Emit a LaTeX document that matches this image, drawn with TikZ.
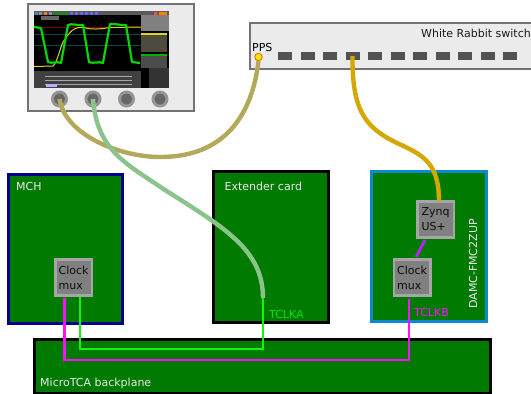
\documentclass[tikz,border=0pt]{standalone}
\usepackage{fontspec}
\setmainfont{DejaVu Sans}
\definecolor{pcb}{HTML}{007A00}
\definecolor{cableolive}{HTML}{B3A95A}
\definecolor{cablegreen}{HTML}{8AC48A}
\definecolor{cablegold}{HTML}{D4A800}
\definecolor{sig}{HTML}{11F511}
\definecolor{mag}{HTML}{FF10FF}
\definecolor{purp}{HTML}{BB22FF}
\tikzset{
  x=1pt,y=-1pt,
  every node/.style={font=\fontsize{11}{13}\selectfont},
  card/.style={draw=#1,line width=3pt,fill=pcb,inner sep=0pt,anchor=north west},
  lbl/.style={anchor=base west,inner sep=0pt,text=white!92!black},
  chipbox/.style={draw=black!35,line width=2.8pt,fill=black!50,minimum width=36.5pt,minimum height=36pt,inner sep=0pt,align=left,text=black!95,font=\fontsize{11}{15}\selectfont,anchor=north west},
  port/.style={draw=none,fill=black!68,minimum width=14pt,minimum height=8.5pt,inner sep=0pt},
  knob/.style={circle,draw=black!42,line width=3pt,fill=black!60,minimum size=14pt,inner sep=0pt},
  cable/.style={line width=4.4pt,draw=#1},
  wire/.style={line width=2.8pt,draw=#1},
  panel/.style={draw=black!55,line width=2.2pt,fill=black!8,inner sep=0pt,anchor=north west},
}
\begin{document}
\begin{tikzpicture}
\useasboundingbox (0,0) rectangle (531,394);
\fill[white] (0,0) rectangle (531,394);
% oscilloscope
\node[panel,minimum width=166pt,minimum height=107.5pt] (scope) at (26.5,2.5) {};
\fill[black] (34,11) rectangle (169,88);
\fill[black!65] (34,11) rectangle (169,15);
\foreach \x/\c in {35/cyan!70!black,39/black!45,44/orange,49/black!45,55/green!60!black,60/green!60!black,65/green!60!black,70/blue!60,75/blue!60,80/blue!60,85/blue!60,90/blue!60,95/blue!60}
  \fill[\c] (\x,12) rectangle ++(3,2.5);
\fill[red!70] (154,12) rectangle (157,14.5);
\fill[orange] (159,12) rectangle (167,14.5);
\fill[black!50] (141,15) rectangle (169,31);
\fill[black!80!yellow] (141,33) rectangle (167,52);
\fill[yellow!85!black] (141,33) rectangle (167,35);
\fill[black!70] (141,54) rectangle (167,68);
\fill[green!70!black] (141,54) rectangle (167,56);
\fill[black!80] (149,68) rectangle (169,88);
\fill[black!75] (34,71) rectangle (141,88);
\foreach \y in {76,80,84} \draw[black!35,line width=0.8pt] (45,\y) -- (132,\y);
\fill[blue!30!white] (46,84) rectangle (57,86.5);
\fill[black!60] (41,15.5) rectangle (59,20);
\foreach \y in {34,45} \draw[teal!60!black,line width=0.5pt] (34,\y) -- (141,\y);
\draw[red!50!black,line width=0.4pt] (34,27) -- (141,27);
\draw[yellow!85!black,line width=1pt,line join=round] (34,66.5) -- (53,66) .. controls (58,62) and (60,45) .. (65,39) .. controls (69,33) and (74,26) .. (84,27.5) .. controls (92,30) and (100,29) .. (110,27.5) -- (141,27);
\draw[green!85!black,line width=2.2pt,line join=round] (34,27) -- (41,28) -- (48,62) .. controls (52,64) and (57,61) .. (61,63) -- (68,25) .. controls (72,23) and (78,26) .. (83,25) -- (89,62) .. controls (93,64) and (99,61) .. (103,63) -- (110,24) .. controls (114,23) and (122,26) .. (126,25) -- (132,62) -- (140,63);
\node[knob] (k1) at (59.5,99) {};
\node[knob] (k2) at (93,99) {};
\node[knob] (k3) at (126.5,99) {};
\node[knob] (k4) at (160,99) {};
% switch
\node[panel,minimum width=300pt,minimum height=46pt] (switch) at (248.5,22) {};
\node[anchor=base east,inner sep=0pt,text=black!90] (wrlabel) at (531,37) {White Rabbit switch};
\node[anchor=base west,inner sep=0pt,text=black] (ppslabel) at (252,51) {PPS};
\foreach \i in {0,...,10} \node[port] (p\i) at ({285+22.5*\i},56) {};
\node[circle,draw=orange!90!black,line width=0.9pt,fill=yellow!85!orange,minimum size=7.5pt,inner sep=0pt] (pps) at (258.5,57) {};
% cards
\node[card=black,minimum width=456pt,minimum height=54pt] (back) at (33,338) {};
\node[card=blue!55!black,minimum width=114.5pt,minimum height=149.5pt] (mch) at (6.5,172.5) {};
\node[card=black,minimum width=114.5pt,minimum height=150.5pt] (ext) at (212,170) {};
\node[card=cyan!70!blue,minimum width=114.5pt,minimum height=149.5pt] (damc) at (370,170) {};
\node[lbl] (mchl) at (16,190) {MCH};
\node[lbl] (extl) at (224.5,190) {Extender card};
\node[lbl] (backl) at (40,386) {MicroTCA backplane};
\node[anchor=base west,inner sep=0pt,text=white!92!black,rotate=90] (damcl) at (477,309) {DAMC-FMC2ZUP};
\node[anchor=base west,inner sep=0pt,text=sig!85!pcb] (tclka) at (269,318) {TCLKA};
\node[anchor=base west,inner sep=0pt,text=mag] (tclkb) at (414,316) {TCLKB};
\node[chipbox] (mux1) at (54,258) {Clock\\mux};
\node[chipbox] (mux2) at (392.5,258) {Clock\\mux};
\node[chipbox] (zynq) at (416,200) {Zynq\\US+};
% wires
\coordinate (a1) at (64.5,298);
\coordinate (a2) at (64.5,360);
\coordinate (a3) at (409,360);
\coordinate (a4) at (409,299);
\coordinate (b1) at (80,297);
\coordinate (b2) at (80,349);
\coordinate (b3) at (263,349);
\coordinate (b4) at (263,298);
\coordinate (zin) at (439,201);
\coordinate (z1) at (425,240);
\coordinate (m1) at (416,257);
\draw[wire=mag] (a1) -- (a2) -- (a3) -- (a4);
\draw[wire=sig] (b1) -- (b2) -- (b3) -- (b4);
\draw[line width=2.8pt,draw=purp] (z1) -- (m1);
% cables
\draw[cable=cableolive] (k1.center) .. controls (65,135) and (120,157) .. (160,157) .. controls (225,157) and (252,115) .. (pps.south);
\draw[cable=cablegreen] (k2.center) .. controls (97,150) and (125,163) .. (165,190) .. controls (225,228) and (263,250) .. (b4);
\draw[cable=cablegold] (p3.center) .. controls (352,110) and (365,127) .. (395,142) .. controls (420,154) and (439,160) .. (zin);
\end{tikzpicture}
\end{document}
